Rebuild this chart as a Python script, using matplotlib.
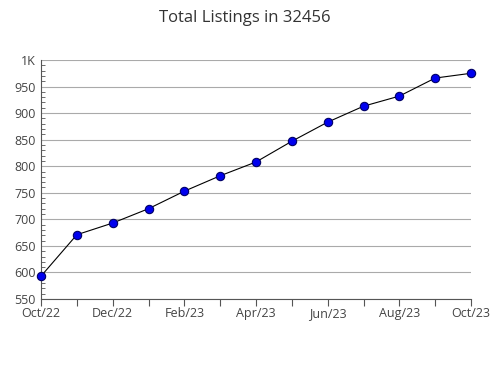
import matplotlib
matplotlib.use("Agg")
import matplotlib.pyplot as plt
from matplotlib.ticker import MultipleLocator, FuncFormatter

months = ["Oct/22", "Nov/22", "Dec/22", "Jan/23", "Feb/23", "Mar/23", "Apr/23",
          "May/23", "Jun/23", "Jul/23", "Aug/23", "Sep/23", "Oct/23"]
listings = [593, 671, 693, 720, 753, 782, 808, 847, 883, 913, 932, 966, 975]

plt.rcParams['font.family'] = ['Open Sans', 'DejaVu Sans']

fig = plt.figure(figsize=(4.9, 3.8), dpi=100)
ax = fig.add_axes([41 / 490, 81 / 380, 430 / 490, 239 / 380])

x = list(range(len(months)))
ax.plot(x, listings, color='black', linewidth=0.8, marker='o', markersize=6,
        markerfacecolor='#0000ee', markeredgecolor='#000066', markeredgewidth=0.8,
        clip_on=False, zorder=3)

ax.set_xlim(0, len(months) - 1)
ax.set_ylim(550, 1000)
ax.yaxis.set_major_locator(MultipleLocator(50))
ax.yaxis.set_minor_locator(MultipleLocator(10))
ax.yaxis.set_major_formatter(FuncFormatter(lambda v, p: "1K" if v >= 1000 else "%d" % v))
ax.set_xticks(x)
ax.set_xticklabels([m if i % 2 == 0 else "" for i, m in enumerate(months)])

ax.grid(axis='y', color='#aaaaaa', linewidth=0.8)
ax.set_axisbelow(True)
for s in ['top', 'right']:
    ax.spines[s].set_visible(False)
for s in ['left', 'bottom']:
    ax.spines[s].set_color('#555555')
    ax.spines[s].set_linewidth(0.8)

ax.tick_params(axis='y', which='major', length=0, labelsize=9, colors='#444444', pad=4)
ax.tick_params(axis='y', which='minor', length=3, color='#555555', direction='in')
ax.tick_params(axis='x', length=5, color='#555555', labelsize=9, labelcolor='#444444', pad=1)

fig.suptitle("Total Listings in 32456", y=0.975, fontsize=12, color='#333333')

fig.savefig("out.png", dpi=100)
